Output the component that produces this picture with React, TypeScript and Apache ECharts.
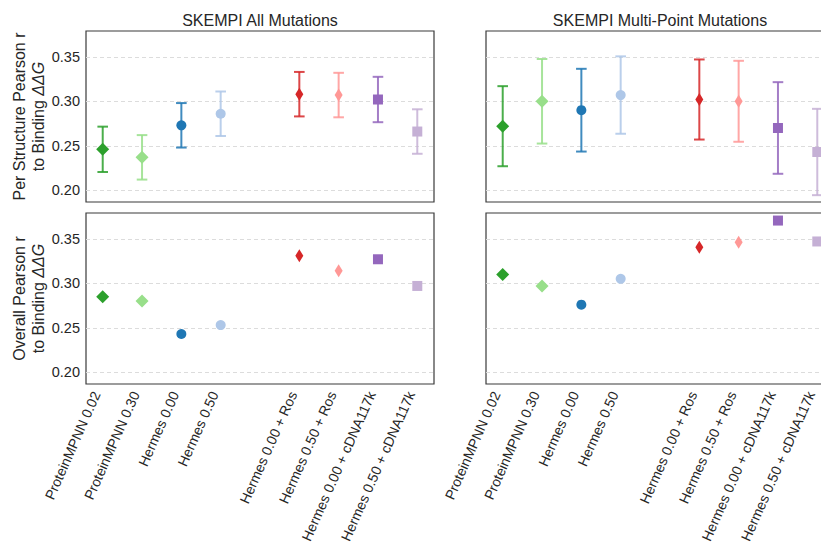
import React, { useEffect, useRef } from "react";
import * as echarts from "echarts";

const labels = [
  "ProteinMPNN 0.02",
  "ProteinMPNN 0.30",
  "Hermes 0.00",
  "Hermes 0.50",
  "Hermes 0.00 + Ros",
  "Hermes 0.50 + Ros",
  "Hermes 0.00 + cDNA117k",
  "Hermes 0.50 + cDNA117k",
];
const xPos = [0, 1, 2, 3, 5, 6, 7, 8];
const yTicks = [0.2, 0.25, 0.3, 0.35];

// SKEMPI All Mutations
const allPerStructMean = [0.246, 0.237, 0.273, 0.286, 0.308, 0.307, 0.302, 0.266];
const allPerStructErr = [0.0255, 0.025, 0.025, 0.025, 0.025, 0.025, 0.0255, 0.025];
const allOverall = [0.285, 0.28, 0.243, 0.253, 0.331, 0.314, 0.327, 0.297];

// SKEMPI Multi-Point Mutations
const multiPerStructMean = [0.272, 0.3, 0.29, 0.307, 0.302, 0.3, 0.27, 0.243];
const multiPerStructErr = [0.045, 0.0475, 0.0465, 0.0435, 0.045, 0.0455, 0.0515, 0.0485];
const multiOverall = [0.31, 0.297, 0.276, 0.305, 0.3405, 0.346, 0.3705, 0.347];

const colors = ["#2ca02c", "#98df8a", "#1f77b4", "#aec7e8", "#d62728", "#ff9896", "#9467bd", "#c5b0d5"];
const symbols = ["diamond", "diamond", "circle", "circle", "diamond", "diamond", "rect", "rect"];
const symbolSizes: any[] = [[13, 13], [13, 13], 10, 10, [8, 13], [8, 13], 10, 10];

const FONT = "'Liberation Sans', Arial, sans-serif";
const TXT = "#262626";

export default function App() {
  const ref = useRef<HTMLDivElement>(null);
  useEffect(() => {
    if (!ref.current) return;
    const chart = echarts.init(ref.current, undefined, { renderer: "svg" });

    const gridPos = [
      { left: 86, top: 31 },
      { left: 486, top: 31 },
      { left: 86, top: 213 },
      { left: 486, top: 213 },
    ];
    const grids = gridPos.map((g) => ({
      ...g,
      width: 348,
      height: 171,
      show: true,
      borderColor: "#3a3a3a",
      borderWidth: 1.2,
      backgroundColor: "transparent",
      containLabel: false,
      outerBoundsMode: "none",
    }));

    const xAxes = [0, 1, 2, 3].map((i) => ({
      gridIndex: i,
      type: "value",
      min: -0.425,
      max: 8.425,
      axisLine: { show: false },
      axisTick: { show: false },
      splitLine: { show: false },
      axisLabel:
        i >= 2
          ? {
              show: true,
              customValues: xPos,
              formatter: (v: number) => {
                const k = xPos.indexOf(Math.round(v));
                return k >= 0 && Math.abs(v - Math.round(v)) < 1e-6 ? labels[k] : "";
              },
              rotate: 66,
              fontSize: 14,
              color: TXT,
              fontFamily: FONT,
              margin: 11,
              align: "right",
              verticalAlign: "bottom",
            }
          : { show: false },
    }));

    const names = [
      "Per Structure Pearson r\nto Binding {i|ΔΔG}",
      "",
      "Overall Pearson r\nto Binding {i|ΔΔG}",
      "",
    ];
    const yAxes = [0, 1, 2, 3].map((i) => ({
      gridIndex: i,
      type: "value",
      min: 0.1868,
      max: 0.379,
      splitNumber: 4,
      axisLine: { show: false },
      axisTick: { show: false, customValues: yTicks },
      splitLine: { show: true, lineStyle: { type: [4, 3], color: "#dcdcdc", width: 1 } },
      axisLabel:
        i % 2 === 0
          ? {
              show: true,
              customValues: yTicks,
              formatter: (v: number) => v.toFixed(2),
              fontSize: 14.5,
              color: TXT,
              fontFamily: FONT,
              margin: 6,
            }
          : { show: false },
      name: names[i],
      nameLocation: "middle",
      nameGap: 38,
      nameRotate: 90,
      nameTextStyle: {
        fontSize: 16,
        color: TXT,
        fontFamily: FONT,
        lineHeight: 19,
        align: "center",
        rich: { i: { fontStyle: "italic", fontSize: 16, color: TXT, fontFamily: FONT, lineHeight: 19 } },
      },
    }));

    const errSeries = (g: number, mean: number[], err: number[]) => ({
      type: "custom",
      xAxisIndex: g,
      yAxisIndex: g,
      z: 1,
      data: xPos.map((x, i) => [x, mean[i] - err[i], mean[i] + err[i]]),
      encode: { x: 0, y: [1, 2] },
      renderItem: (params: any, api: any) => {
        const x = api.value(0);
        const p1 = api.coord([x, api.value(1)]);
        const p2 = api.coord([x, api.value(2)]);
        const st = { stroke: colors[params.dataIndex], lineWidth: 2, opacity: 0.85 };
        return {
          type: "group",
          children: [
            { type: "line", shape: { x1: p1[0], y1: p1[1], x2: p2[0], y2: p2[1] }, style: st },
            { type: "line", shape: { x1: p1[0] - 5.3, y1: p1[1], x2: p1[0] + 5.3, y2: p1[1] }, style: st },
            { type: "line", shape: { x1: p2[0] - 5.3, y1: p2[1], x2: p2[0] + 5.3, y2: p2[1] }, style: st },
          ],
        };
      },
    });

    const ptSeries = (g: number, vals: number[]) => ({
      type: "scatter",
      xAxisIndex: g,
      yAxisIndex: g,
      z: 3,
      data: xPos.map((x, i) => ({
        value: [x, vals[i]],
        symbol: symbols[i],
        symbolSize: symbolSizes[i],
        itemStyle: { color: colors[i], opacity: 1 },
      })),
    });

    chart.setOption({
      animation: false,
      backgroundColor: "#ffffff",
      textStyle: { fontFamily: FONT },
      grid: grids,
      xAxis: xAxes,
      yAxis: yAxes,
      graphic: [
        {
          type: "text",
          x: 260,
          y: 20,
          style: { text: "SKEMPI All Mutations", fontSize: 16, fontFamily: FONT, fill: TXT, align: "center", verticalAlign: "middle" },
        },
        {
          type: "text",
          x: 660,
          y: 20,
          style: { text: "SKEMPI Multi-Point Mutations", fontSize: 16, fontFamily: FONT, fill: TXT, align: "center", verticalAlign: "middle" },
        },
      ],
      series: [
        errSeries(0, allPerStructMean, allPerStructErr),
        ptSeries(0, allPerStructMean),
        errSeries(1, multiPerStructMean, multiPerStructErr),
        ptSeries(1, multiPerStructMean),
        ptSeries(2, allOverall),
        ptSeries(3, multiOverall),
      ],
    } as any);
    return () => chart.dispose();
  }, []);
  return (
    <div
      ref={ref}
      style={{ position: "absolute", left: 0, top: 0, width: 821, height: 556, background: "#fff" }}
    />
  );
}
